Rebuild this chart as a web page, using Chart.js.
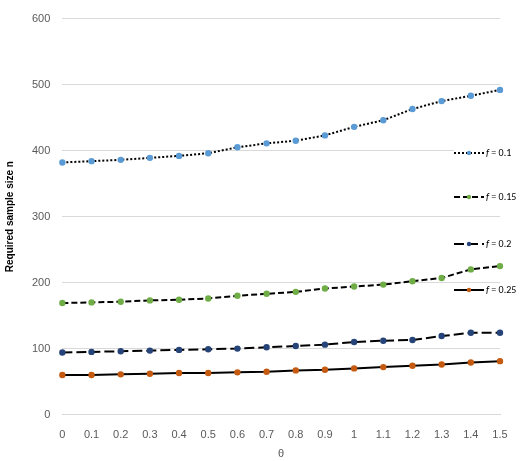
<!DOCTYPE html><html><head><script src="https://cdn.jsdelivr.net/npm/chart.js"></script>
<style>body{margin:0;font-family:Calibri,Carlito,"Liberation Sans",sans-serif;}#w{position:relative;width:520px;height:461px}
#c{position:absolute;left:0;top:0}
.lg{position:absolute;left:454px;font-size:10px;display:flex;align-items:center;white-space:nowrap;background:#fff}
.lg svg{margin-right:2px}</style></head><body>
<div id="w"><canvas id="c" width="520" height="461" style="width:520px;height:461px"></canvas><div id="legend"></div></div>
<script>
const categories=["0","0.1","0.2","0.3","0.4","0.5","0.6","0.7","0.8","0.9","1","1.1","1.2","1.3","1.4","1.5"];
const f010=[382,384,386,389,392,396,405,411,415,423,436,446,463,475,483,492];
const f015=[169,170,171,173,174,176,180,183,186,191,194,197,202,207,220,225];
const f020=[94,95,96,97,98,99,100,102,104,106,110,112,113,119,124,124];
const f025=[60,60,61,62,63,63,64,65,67,68,70,72,74,76,79,81];
const names=["0.1","0.15","0.2","0.25"];
const colors=["#5b9bd5","#70ad47","#264478","#c55a11"];
const dashes=[[2,2],[6,3],[10,4],[]];
const series=[f010,f015,f020,f025];
const legendY=[153,197,244,290];
new Chart(document.getElementById('c'),{type:'line',
data:{labels:categories,datasets:series.map((d,i)=>({label:'f = '+names[i],data:d,borderColor:'#000',borderWidth:2,borderDash:dashes[i],pointBackgroundColor:colors[i],pointBorderColor:colors[i],pointRadius:2.2,tension:0}))},
options:{responsive:false,animation:false,layout:{padding:{top:0,right:20,bottom:0}},
plugins:{legend:{display:false}},
scales:{y:{min:0,max:600,ticks:{stepSize:100,color:'#595959',font:{size:11},padding:12},grid:{color:'#d9d9d9',drawTicks:false},border:{display:false},
title:{display:true,text:'Required sample size n',font:{size:10,weight:'bold'},color:'#000'}},
x:{offset:false,grid:{display:false},border:{color:'#d9d9d9'},ticks:{color:'#595959',font:{size:11},maxRotation:0,autoSkip:false,padding:6},title:{display:true,text:'θ',color:'#595959',font:{size:11},padding:0}}}}});
const lg=document.getElementById('legend');
series.forEach((d,i)=>{const e=document.createElement('div');e.className='lg';e.style.top=(legendY[i]-7)+'px';
e.innerHTML='<svg width="30" height="8"><line x1="0" y1="4" x2="30" y2="4" stroke="#000" stroke-width="2" stroke-dasharray="'+(dashes[i].join(',')||'none')+'"/><circle cx="15" cy="4" r="2.2" fill="'+colors[i]+'"/></svg><span><i>f</i> = '+names[i]+'</span>';lg.appendChild(e);});
</script></body></html>
